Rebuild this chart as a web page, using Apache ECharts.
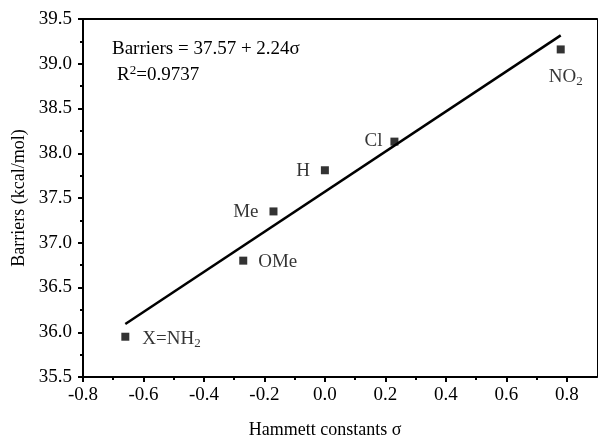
<!DOCTYPE html>
<html>
<head>
<meta charset="utf-8">
<script src="https://cdn.jsdelivr.net/npm/echarts@6/dist/echarts.min.js"></script>
<style>
  html, body { margin: 0; padding: 0; background: #fff; }
  #chart { width: 598px; height: 444px; }
</style>
</head>
<body>
<div id="chart"></div>
<script>
// Hammett sigma constants and computed barriers for each para substituent
const substituents = ['X=NH2', 'OMe', 'Me', 'H', 'Cl', 'NO2'];
const sigma = [-0.66, -0.27, -0.17, 0.00, 0.23, 0.78];
const barriers = [35.95, 36.80, 37.35, 37.81, 38.13, 39.16];

// Linear fit: Barriers = intercept + slope * sigma
const fitIntercept = 37.57;
const fitSlope = 2.24;
const fitR2 = 0.9737;

// Axis ranges and tick positions
const xRange = { min: -0.8, max: 0.9 };
const xMajorTicks = [-0.8, -0.6, -0.4, -0.2, 0.0, 0.2, 0.4, 0.6, 0.8];
const xMinorTicks = [-0.7, -0.5, -0.3, -0.1, 0.1, 0.3, 0.5, 0.7];
const yTicks = { min: 35.5, max: 39.5, interval: 0.5 };

const FONT = '"Liberation Serif", "Times New Roman", serif';

// Label text with subscripts rendered through rich text
function richName(name) {
  return name.replace(/(\d)$/, '{s|$1}').replace(/^([^{]+)/, '{n|$1}');
}

// Where each substituent label sits relative to its point
const labelPlacement = {
  'X=NH2': { position: 'right', distance: 13, offset: [0, 2] },
  'OMe':   { position: 'right', distance: 11, offset: [0, 1] },
  'Me':    { position: 'left',  distance: 11, offset: [0, 1] },
  'H':     { position: 'left',  distance: 11, offset: [0, 1] },
  'Cl':    { position: 'left',  distance: 8,  offset: [0, -1] },
  'NO2':   { position: 'bottom', distance: 12, offset: [5, 0] }
};

const richStyle = {
  n: { fontFamily: FONT, fontSize: 19, color: '#000' },
  s: { fontFamily: FONT, fontSize: 13, color: '#000', verticalAlign: 'bottom', padding: [10, 0, 0, 0] }
};

const points = substituents.map((name, i) => ({
  value: [sigma[i], barriers[i]],
  label: Object.assign({
    show: true,
    formatter: richName(name),
    rich: richStyle
  }, labelPlacement[name])
}));

const fitX = [Math.min(...sigma), Math.max(...sigma)];
const fitLine = fitX.map(x => [x, fitIntercept + fitSlope * x]);

const chart = echarts.init(document.getElementById('chart'), null, { renderer: 'canvas' });

const tickLabel = { fontFamily: FONT, fontSize: 19, color: '#000' };
const axisName = { fontFamily: FONT, fontSize: 18, color: '#000' };
const blackLine = { color: '#000', width: 2 };

chart.setOption({
  animation: false,
  backgroundColor: '#fff',
  grid: { left: 83, right: 1, top: 19, bottom: 64, containLabel: false },
  xAxis: [{
    type: 'value',
    position: 'bottom',
    min: xRange.min, max: xRange.max,
    name: 'Hammett constants σ',
    nameLocation: 'middle',
    nameGap: 44,
    nameTextStyle: { ...axisName, padding: [0, 30, 0, 0] },
    axisLine: { show: true, onZero: false, lineStyle: blackLine },
    axisTick: { show: true, inside: false, length: 5, customValues: xMajorTicks, lineStyle: blackLine },
    axisLabel: {
      ...tickLabel, margin: 9, customValues: xMajorTicks,
      formatter: v => v.toFixed(1)
    },
    splitLine: { show: false }
  }, {
    // minor ticks along the bottom axis
    type: 'value',
    position: 'bottom',
    offset: 0,
    min: xRange.min, max: xRange.max,
    axisLine: { show: false },
    axisTick: { show: true, inside: false, length: 3, customValues: xMinorTicks, lineStyle: blackLine },
    axisLabel: { show: false },
    splitLine: { show: false }
  }, {
    // frame line along the top
    type: 'value', position: 'top',
    min: xRange.min, max: xRange.max,
    axisLine: { show: true, onZero: false, lineStyle: blackLine },
    axisTick: { show: false }, axisLabel: { show: false }, splitLine: { show: false }
  }],
  yAxis: [{
    type: 'value',
    min: yTicks.min, max: yTicks.max, interval: yTicks.interval,
    name: 'Barriers (kcal/mol)',
    nameLocation: 'middle',
    nameGap: 52,
    nameTextStyle: axisName,
    axisLine: { show: true, onZero: false, lineStyle: blackLine },
    axisTick: { show: true, inside: false, length: 5, lineStyle: blackLine },
    minorTick: { show: true, splitNumber: 2, length: 3, lineStyle: blackLine },
    axisLabel: { ...tickLabel, margin: 11, formatter: v => v.toFixed(1) },
    splitLine: { show: false }
  }, {
    // thin frame line on the right
    type: 'value', position: 'right',
    min: yTicks.min, max: yTicks.max,
    axisLine: { show: true, onZero: false, lineStyle: { color: '#000', width: 1 } },
    axisTick: { show: false }, axisLabel: { show: false }, splitLine: { show: false }
  }],
  series: [{
    type: 'line',
    data: fitLine,
    symbol: 'none',
    lineStyle: { color: '#000', width: 2.5 },
    z: 2
  }, {
    type: 'scatter',
    data: points,
    symbol: 'rect',
    symbolSize: 8,
    itemStyle: { color: '#000' },
    z: 3
  }],
  graphic: [{
    type: 'text',
    left: 112, top: 40,
    style: {
      text: 'Barriers = ' + fitIntercept.toFixed(2) + ' + ' + fitSlope.toFixed(2) + 'σ',
      font: '19px ' + FONT, fill: '#000'
    }
  }, {
    type: 'text',
    left: 117, top: 64,
    style: {
      text: '{n|R}{p|2}{n|=' + fitR2.toFixed(4) + '}',
      rich: {
        n: { fontFamily: FONT, fontSize: 19, color: '#000' },
        p: { fontFamily: FONT, fontSize: 13, color: '#000', verticalAlign: 'top', padding: [0, 0, 9, 0] }
      }
    }
  }]
});
</script>
</body>
</html>
